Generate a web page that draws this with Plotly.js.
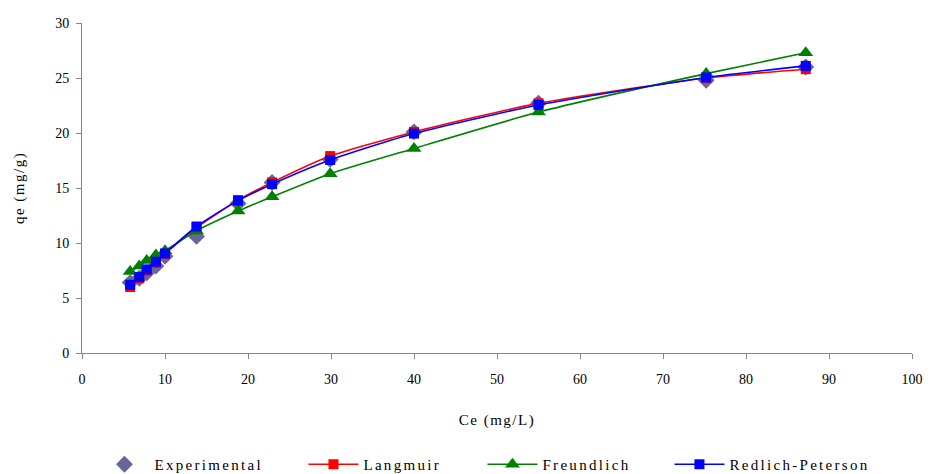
<!DOCTYPE html>
<html>
<head>
<meta charset="utf-8">
<script src="https://cdn.plot.ly/plotly-3.0.1.min.js"></script>
<style>
  html, body { margin: 0; padding: 0; background: #fff; }
  #chart { width: 932px; height: 474px; }
  .legendtext { letter-spacing: 2.3px; }
  .xtitle, .ytitle { letter-spacing: 1.5px; }
</style>
</head>
<body>
<div id="chart"></div>
<script>
// Data
const ce = [5.8, 6.9, 7.8, 8.9, 10.0, 13.8, 18.8, 22.9, 29.9, 40.0, 55.0, 75.2, 87.2];
const qeExperimental = [6.4, 6.8, 7.3, 7.9, 8.8, 10.6, 13.6, 15.5, 17.6, 20.1, 22.7, 24.8, 26.0];
const qeLangmuir = [6.0, 6.8, 7.5, 8.2, 9.0, 11.4, 13.9, 15.5, 17.9, 20.1, 22.7, 25.0, 25.8];
const qeFreundlich = [7.4, 7.9, 8.4, 8.9, 9.3, 11.1, 12.9, 14.2, 16.3, 18.6, 21.9, 25.4, 27.3];
const qeRedlichPeterson = [6.2, 6.9, 7.6, 8.3, 9.05, 11.5, 13.85, 15.35, 17.55, 19.95, 22.55, 25.05, 26.1];
const seriesNames = ["Experimental", "Langmuir", "Freundlich", "Redlich-Peterson"];
const xTickVals = [0, 10, 20, 30, 40, 50, 60, 70, 80, 90, 100];
const yTickVals = [0, 5, 10, 15, 20, 25, 30];

const FONT = "'Liberation Serif', 'DejaVu Serif', serif";

const traces = [
  {
    x: ce, y: qeExperimental, name: seriesNames[0], type: "scatter", mode: "markers",
    marker: { symbol: "diamond", size: 13, color: "#666699" },
    legendwidth: 144
  },
  {
    x: ce, y: qeLangmuir, name: seriesNames[1], type: "scatter", mode: "lines+markers",
    line: { color: "#FF0000", width: 1.6, shape: "spline", smoothing: 0.6 },
    marker: { symbol: "square", size: 10, color: "#FF0000" },
    legendwidth: 114
  },
  {
    x: ce, y: qeFreundlich, name: seriesNames[2], type: "scatter", mode: "lines+markers",
    line: { color: "#008000", width: 1.6, shape: "spline", smoothing: 0.6 },
    marker: { symbol: "triangle-up", size: 13, color: "#008000" },
    legendwidth: 122
  },
  {
    x: ce, y: qeRedlichPeterson, name: seriesNames[3], type: "scatter", mode: "lines+markers",
    line: { color: "#0000FF", width: 1.6, shape: "spline", smoothing: 0.6 },
    marker: { symbol: "square", size: 10, color: "#0000FF" },
    legendwidth: 160
  }
];

const layout = {
  width: 932, height: 474,
  margin: { l: 82, r: 20, t: 23, b: 121, pad: 0, autoexpand: false },
  paper_bgcolor: "#ffffff", plot_bgcolor: "#ffffff",
  font: { family: FONT, size: 14, color: "#000000" },
  showlegend: true,
  xaxis: {
    range: [0, 100], tickvals: xTickVals, ticktext: xTickVals.map(String),
    showgrid: false, zeroline: false, showline: true, linecolor: "#868686", linewidth: 1,
    ticks: "outside", ticklen: 5, tickcolor: "#868686", tickwidth: 1,
    ticklabelstandoff: 8,
    tickfont: { family: FONT, size: 14, color: "#000" },
    title: { text: "Ce (mg/L)", font: { family: FONT, size: 15, color: "#000" }, standoff: 28 }
  },
  yaxis: {
    range: [0, 30], tickvals: yTickVals, ticktext: yTickVals.map(String),
    showgrid: false, zeroline: false, showline: true, linecolor: "#868686", linewidth: 1,
    ticks: "outside", ticklen: 5, tickcolor: "#868686", tickwidth: 1,
    ticklabelstandoff: 4,
    tickfont: { family: FONT, size: 14, color: "#000" },
    title: { text: "qe (mg/g)", font: { family: FONT, size: 15, color: "#000" }, standoff: 26 }
  },
  legend: {
    orientation: "h", xref: "paper", yref: "paper",
    x: 0.015, xanchor: "left", y: -0.288, yanchor: "top",
    itemwidth: 50, font: { family: FONT, size: 15, color: "#000" },
    bgcolor: "rgba(0,0,0,0)", borderwidth: 0, tracegroupgap: 0
  }
};

Plotly.newPlot("chart", traces, layout, { displayModeBar: false, staticPlot: true });
</script>
</body>
</html>
